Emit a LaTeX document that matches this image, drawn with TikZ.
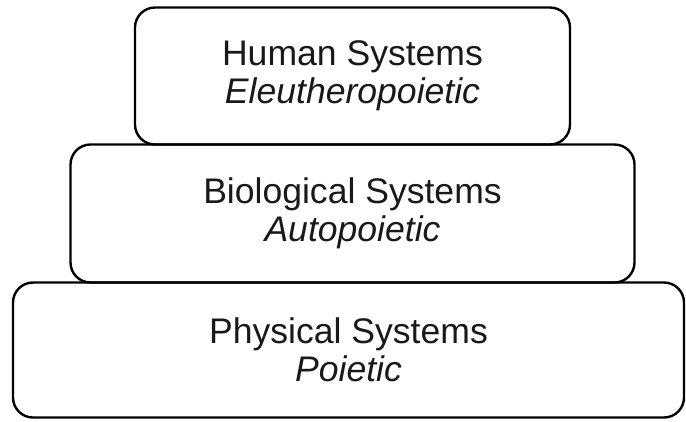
\documentclass[tikz,border=0pt]{standalone}
\usepackage{fontspec}
\setmainfont{Liberation Sans}
\usepackage{tikz}
\usetikzlibrary{positioning}

\begin{document}
\begin{tikzpicture}[node distance=0pt]
\tikzstyle{layer}=[rectangle,rounded corners=0.5cm,draw=black,line width=1.7pt,outer sep=0pt,align=center,font=\fontsize{25.3}{27.3}\selectfont,text=black!90]
\useasboundingbox (0,0) rectangle (17.15,-10.525);
\node[layer,minimum width=10.875cm,minimum height=3.425cm] (human) at (8.8125,-1.9) {Human Systems\\\textit{Eleutheropoietic}};
\node[layer,minimum width=14.1cm,minimum height=3.45cm,below=of human] (bio) {Biological Systems\\\textit{Autopoietic}};
\node[layer,minimum width=16.775cm,minimum height=3.375cm,below=of bio,xshift=-0.1cm] (phys) {Physical Systems\\\textit{Poietic}};
\end{tikzpicture}
\end{document}
